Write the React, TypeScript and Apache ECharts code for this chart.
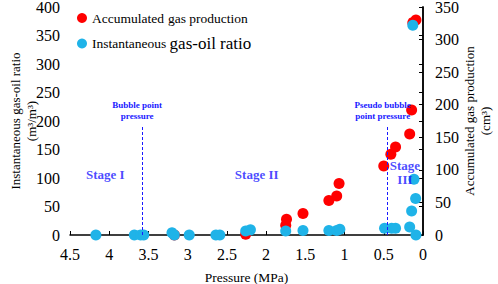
import React, { useEffect, useRef } from "react";
import * as echarts from "echarts";

// Instantaneous gas-oil ratio (left axis, m3/m3) vs pressure (MPa)
const gorPressure = [4.17, 3.68, 3.6, 3.56, 3.2, 3.17, 2.98, 2.64, 2.59, 2.26, 2.2, 1.75, 1.53, 1.2, 1.1, 1.06, 0.49, 0.4, 0.35, 0.17, 0.145, 0.094, 0.115, 0.09, 0.13];
const gorValues = [0, 0, 0, 0, 4, 0, 0, 0, 0, 7, 9, 7, 8, 8, 8, 10, 12, 12, 12, 14, 42, 64, 98, 0, 368];

// Accumulated gas production (right axis, cm3) vs pressure (MPa)
const gasPressure = [3.17, 2.26, 1.75, 1.74, 1.53, 1.2, 1.1, 1.07, 0.5, 0.41, 0.35, 0.17, 0.145, 0.13, 0.09];
const gasValues = [0, 1, 15, 24, 33, 53, 60, 79, 106, 124, 135, 155, 192, 326, 330];

// Annotations
const stageNames = ["Stage I", "Stage II", "Stage\nIII"];
const stagePressure = [4.05, 2.12, 0.23];
const stageLevel = [107, 107, 109];
const markerNames = ["Bubble point\npressure", "Pseudo bubble\npoint pressure"];
const markerPressure = [3.58, 0.45];
const markerTop = 193;

const RED = "#ff0000";
const BLUE = "#1fb3e8";
const ANNO = "#1a1aff";
const FONT = "Liberation Serif";

export default function App() {
  const ref = useRef<HTMLDivElement>(null);
  useEffect(() => {
    if (!ref.current) return;
    const chart = echarts.init(ref.current, undefined, { renderer: "svg" });
    const axisLine = { show: true, lineStyle: { color: "#000", width: 1.5 } };
    chart.setOption({
      animation: false,
      textStyle: { fontFamily: FONT },
      grid: { left: 70, right: 75, top: 7, bottom: 49, containLabel: false, outerBoundsMode: "none" },
      legend: {
        data: ["Accumulated gas production", "Instantaneous gas-oil ratio"],
        orient: "vertical",
        left: 77,
        top: 11,
        padding: 0,
        itemGap: 10,
        itemWidth: 10,
        itemHeight: 10,
        icon: "circle",
        formatter: (name: string) =>
          name === "Instantaneous gas-oil ratio"
            ? "{a|Instantaneous }{b|gas-oil ratio}"
            : "{c|Accumulated}{s| }{c|gas production}",
        textStyle: {
          fontFamily: FONT,
          color: "#000",
          rich: {
            a: { fontSize: 13.5, fontFamily: FONT, color: "#000" },
            b: { fontSize: 17, fontFamily: FONT, color: "#000" },
            c: { fontSize: 13.5, fontFamily: FONT, color: "#000" },
            s: { fontSize: 13.5, fontFamily: FONT, color: "#000", width: 4 },
          },
        },
      },
      xAxis: {
        type: "value",
        min: 0,
        max: 4.5,
        interval: 0.5,
        inverse: true,
        name: "Pressure (MPa)",
        nameLocation: "middle",
        nameGap: 35,
        nameMoveOverlap: false,
        nameTextStyle: { fontSize: 13.5, color: "#000", fontFamily: FONT },
        axisLine,
        axisTick: { show: true, inside: true, length: 4, lineStyle: { color: "#000" } },
        axisLabel: { fontSize: 16, color: "#000", margin: 11, fontFamily: FONT },
        splitLine: { show: false },
      },
      yAxis: [
        {
          type: "value",
          min: 0,
          max: 400,
          interval: 50,
          name: "Instantaneous gas-oil ratio\n(m³/m³)",
          nameLocation: "middle",
          nameRotate: 90,
          nameGap: 31,
          nameMoveOverlap: false,
          nameTextStyle: { fontSize: 13, color: "#000", fontFamily: FONT, lineHeight: 16 },
          axisLine,
          axisTick: { show: true, inside: false, length: 4, lineStyle: { color: "#000" } },
          axisLabel: { fontSize: 16, color: "#000", margin: 10, fontFamily: FONT },
          splitLine: { show: false },
        },
        {
          type: "value",
          min: 0,
          max: 350,
          interval: 50,
          position: "right",
          name: "Accumulated gas production\n(cm³)",
          nameLocation: "middle",
          nameRotate: 90,
          nameGap: 38,
          nameMoveOverlap: false,
          nameTextStyle: { fontSize: 13, color: "#000", fontFamily: FONT, lineHeight: 16 },
          axisLine,
          axisTick: { show: true, inside: true, length: 4, lineStyle: { color: "#000" } },
          axisLabel: { fontSize: 16, color: "#000", margin: 12, fontFamily: FONT },
          splitLine: { show: false },
        },
      ],
      series: [
        {
          name: "Accumulated gas production",
          type: "scatter",
          yAxisIndex: 1,
          symbolSize: 11,
          itemStyle: { color: RED, opacity: 1 },
          data: gasPressure.map((p, i) => [p, gasValues[i]]),
          z: 2,
        },
        {
          name: "Instantaneous gas-oil ratio",
          type: "scatter",
          yAxisIndex: 0,
          symbolSize: 11,
          itemStyle: { color: BLUE, opacity: 1 },
          data: gorPressure.map((p, i) => [p, gorValues[i]]),
          z: 3,
          markLine: {
            silent: true,
            symbol: "none",
            lineStyle: { color: ANNO, type: [3, 2], width: 1 },
            label: {
              show: true,
              position: "end",
              formatter: "{b}",
              color: ANNO,
              fontSize: 9,
              fontWeight: "bold",
              fontFamily: FONT,
              lineHeight: 11,
              distance: 3,
              offset: [-5, 0],
            },
            data: markerPressure.map((p, i) => [
              { name: markerNames[i], coord: [p, 0] },
              { coord: [p, markerTop] },
            ]),
          },
        },
        {
          name: "stages",
          type: "scatter",
          yAxisIndex: 0,
          symbolSize: 0,
          silent: true,
          z: 4,
          label: {
            show: true,
            position: "inside",
            formatter: (p: any) => p.value[2],
            color: ANNO,
            fontSize: 13,
            fontWeight: "bold",
            fontFamily: FONT,
            lineHeight: 14,
          },
          data: stagePressure.map((p, i) => [p, stageLevel[i], stageNames[i]]),
        },
      ],
    });
    return () => chart.dispose();
  }, []);
  return (
    <div
      ref={ref}
      style={{ position: "fixed", left: 0, top: 0, width: 498, height: 284, background: "#fff" }}
    />
  );
}
